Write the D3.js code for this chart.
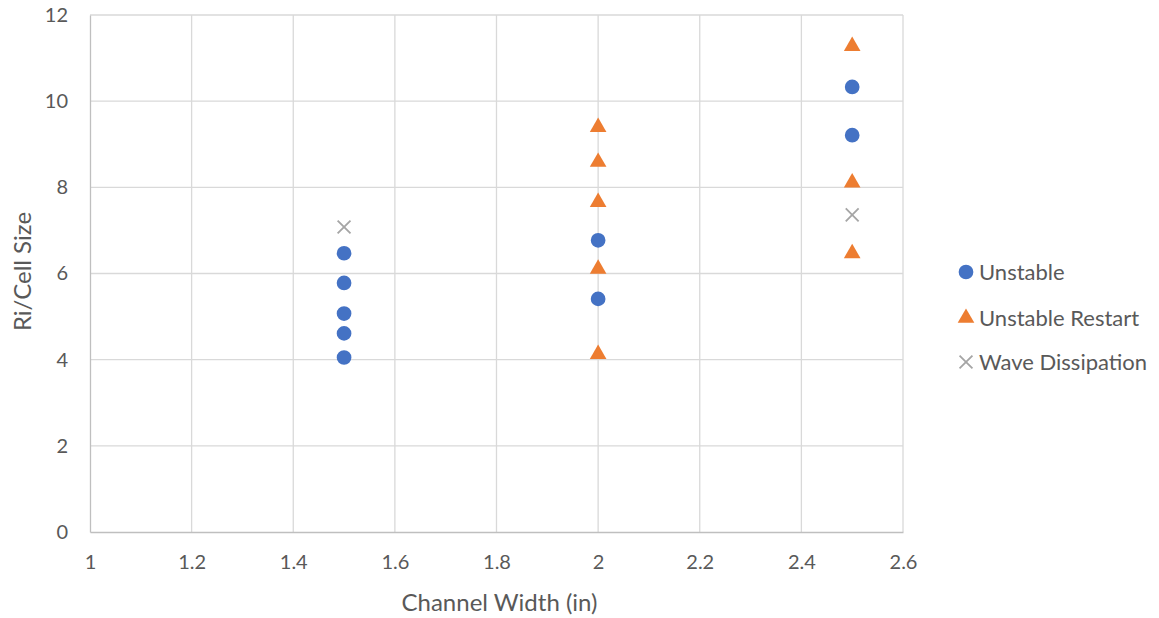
<!DOCTYPE html>
<html>
<head>
<meta charset="utf-8">
<script src="https://cdn.jsdelivr.net/npm/d3@7"></script>
<style>
body { margin: 0; background: #fff; }
text { font-family: Lato, "Open Sans", sans-serif; fill: #595959; }
</style>
</head>
<body>
<svg id="chart" width="1159" height="618"></svg>
<script>
const xTicks = [1, 1.2, 1.4, 1.6, 1.8, 2, 2.2, 2.4, 2.6];
const yTicks = [0, 2, 4, 6, 8, 10, 12];
const seriesNames = ["Unstable", "Unstable Restart", "Wave Dissipation"];
const seriesColors = ["#4472C4", "#ED7D31", "#A5A5A5"];
const unstableX = [1.5, 1.5, 1.5, 1.5, 1.5, 2, 2, 2.5, 2.5];
const unstableY = [6.47, 5.78, 5.07, 4.61, 4.05, 6.77, 5.41, 10.33, 9.21];
const restartX = [2, 2, 2, 2, 2, 2.5, 2.5, 2.5];
const restartY = [9.42, 8.61, 7.68, 6.13, 4.15, 11.30, 8.13, 6.49];
const dissipX = [1.5, 2.5];
const dissipY = [7.08, 7.36];

const svg = d3.select("#chart");
const m = { left: 90, right: 903, top: 15, bottom: 532 };
const x = d3.scaleLinear().domain([1, 2.6]).range([m.left, m.right]);
const y = d3.scaleLinear().domain([0, 12]).range([m.bottom, m.top]);

// gridlines
svg.append("g").selectAll("line").data(yTicks.filter(d => d > 0)).join("line")
  .attr("x1", m.left).attr("x2", m.right)
  .attr("y1", d => y(d)).attr("y2", d => y(d))
  .attr("stroke", "#D9D9D9").attr("stroke-width", 1.3);
svg.append("g").selectAll("line").data(xTicks.filter(d => d > 1)).join("line")
  .attr("x1", d => x(d)).attr("x2", d => x(d))
  .attr("y1", m.top).attr("y2", m.bottom)
  .attr("stroke", "#D9D9D9").attr("stroke-width", 1.3);

// axes
const xAxis = svg.append("g").attr("transform", `translate(0,${m.bottom})`)
  .call(d3.axisBottom(x).tickValues(xTicks).tickSize(0).tickPadding(23).tickFormat(d3.format("")));
xAxis.select(".domain").attr("stroke", "#BFBFBF").attr("stroke-width", 1.3);
xAxis.selectAll("text").style("font-size", "20px").attr("fill", "#595959");

const yAxis = svg.append("g").attr("transform", `translate(${m.left},0)`)
  .call(d3.axisLeft(y).tickValues(yTicks).tickSize(0).tickPadding(22).tickFormat(d3.format("")));
yAxis.select(".domain").attr("stroke", "#BFBFBF").attr("stroke-width", 1.3);
yAxis.selectAll("text").style("font-size", "20px").attr("fill", "#595959");

// axis titles
svg.append("text").attr("x", (m.left + m.right) / 2 + 3).attr("y", 611)
  .attr("text-anchor", "middle").style("font-size", "24px").text("Channel Width (in)");
svg.append("text").attr("transform", `translate(31,${(m.top + m.bottom) / 2 - 2}) rotate(-90)`)
  .attr("text-anchor", "middle").style("font-size", "24px").text("Ri/Cell Size");

// markers
const circleSym = d3.symbol().type(d3.symbolCircle).size(170);
const triSym = d3.symbol().type(d3.symbolTriangle).size(120);
const crossSym = d3.symbol().type(d3.symbolTimes).size(110);

const mk = (xs, ys) => xs.map((v, i) => ({ x: v, y: ys[i] }));

svg.append("g").selectAll("path").data(mk(unstableX, unstableY)).join("path")
  .attr("d", circleSym).attr("transform", d => `translate(${x(d.x)},${y(d.y)})`)
  .attr("fill", seriesColors[0]);
svg.append("g").selectAll("path").data(mk(restartX, restartY)).join("path")
  .attr("d", triSym).attr("transform", d => `translate(${x(d.x)},${y(d.y) + 1})`)
  .attr("fill", seriesColors[1]);
svg.append("g").selectAll("path").data(mk(dissipX, dissipY)).join("path")
  .attr("d", crossSym).attr("transform", d => `translate(${x(d.x)},${y(d.y)})`)
  .attr("fill", "none").attr("stroke", seriesColors[2]).attr("stroke-width", 1.8);

// legend
const leg = svg.append("g");
const legY = [272, 318, 362];
const syms = [circleSym, triSym, crossSym];
seriesNames.forEach((n, i) => {
  const g = leg.append("g").attr("transform", `translate(966,${legY[i]})`);
  const p = g.append("path").attr("d", syms[i]);
  if (i === 2) p.attr("fill", "none").attr("stroke", seriesColors[i]).attr("stroke-width", 1.8);
  else p.attr("fill", seriesColors[i]);
  g.append("text").attr("x", 13).attr("y", 0).attr("dy", "0.35em")
    .style("font-size", "22px").text(n);
});
</script>
</body>
</html>
